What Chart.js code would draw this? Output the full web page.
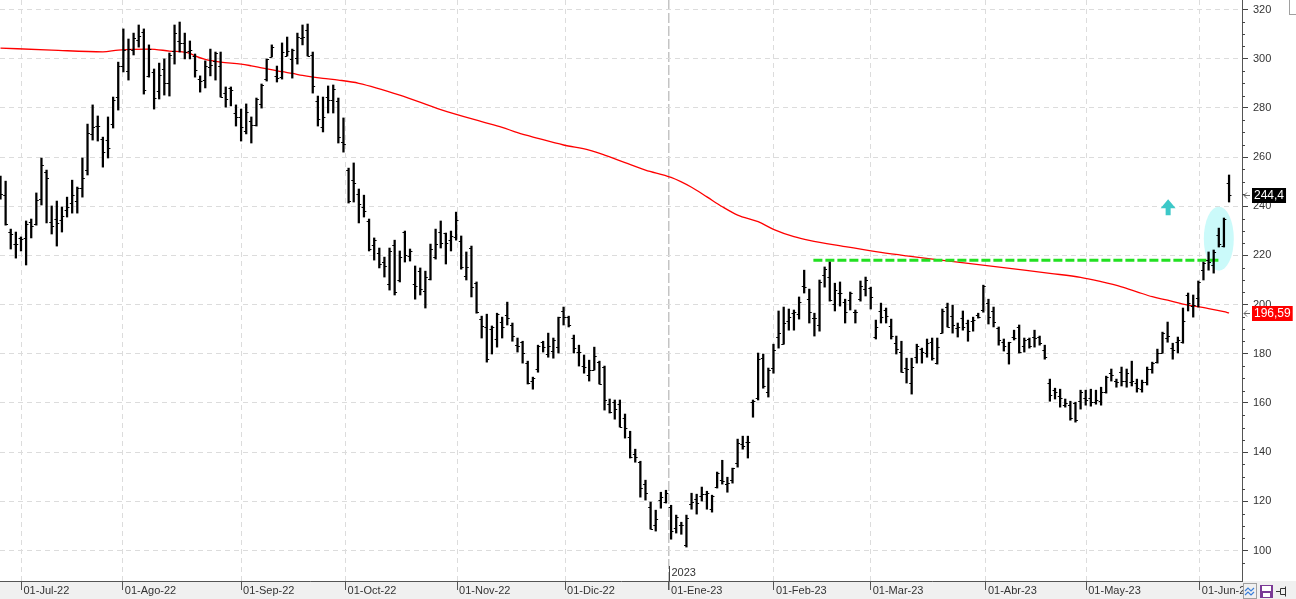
<!DOCTYPE html>
<html>
<head>
<meta charset="utf-8">
<script src="https://cdn.jsdelivr.net/npm/chart.js@4.4.1/dist/chart.umd.min.js"></script>
<style>
  html, body { margin: 0; padding: 0; background: #fff; overflow: hidden; }
  #wrap { position: relative; width: 1296px; height: 599px; }
</style>
</head>
<body>
<div id="wrap"><canvas id="priceChart"></canvas></div>
<script>
/* ── daily OHLC, one entry per session (27-Jun-22 … 08-Jun-23) ── */
const opens = [
  250.0,244.5,229.5,224.6,227.1,227.1,233.6,232.7,242.9,253.9,233.6,234.8,234.4,238.4,241.3,242.1,247.4,254.7,269.4,272.6,
  267.3,266.9,273.4,284.4,297.0,295.0,303.5,307.6,310.9,293.0,294.6,286.9,295.8,290.1,303.1,307.2,306.4,303.1,301.1,291.7,
  291.3,296.6,299.1,297.0,286.0,288.1,277.9,276.3,270.6,274.6,273.0,281.6,291.7,300.7,293.0,292.5,301.1,299.9,300.3,308.4,
  311.7,301.5,282.8,272.2,284.4,283.2,282.8,266.1,254.7,250.6,244.9,239.7,234.0,224.2,221.0,217.3,208.3,224.2,210.0,229.5,
  219.7,208.3,213.6,205.5,210.4,219.3,229.5,229.1,226.2,227.5,225.8,211.6,223.0,208.7,194.1,190.9,190.0,186.0,192.9,195.7,
  191.7,183.5,184.7,176.2,168.9,173.8,184.7,179.9,181.1,182.7,197.4,194.9,186.4,180.7,175.0,171.3,173.4,176.6,174.6,159.5,
  160.3,159.5,153.8,146.1,139.2,135.9,127.0,117.6,110.3,120.5,119.7,117.6,109.1,110.3,102.2,118.8,120.9,122.1,122.9,116.8,
  125.8,128.6,127.0,128.6,135.5,143.3,144.1,160.3,162.0,178.2,164.4,174.2,186.8,183.9,193.3,196.5,196.1,207.5,202.2,194.5,
  191.7,212.0,211.2,200.2,204.7,201.0,201.8,196.9,202.2,206.3,206.7,186.8,197.4,197.8,191.3,184.3,180.7,174.2,168.1,178.6,
  181.9,180.3,184.7,176.2,188.4,199.0,195.3,190.4,194.5,192.5,193.3,195.7,197.8,200.6,197.4,190.4,184.7,180.3,186.8,190.9,
  183.1,186.0,186.8,186.8,181.5,168.1,165.2,162.8,159.1,159.1,159.9,160.7,162.0,162.0,160.3,160.7,164.4,172.1,168.9,172.5,
  168.9,168.5,168.1,165.6,168.5,173.8,176.6,180.3,186.4,182.3,184.7,184.7,203.9,199.4,202.6,214.0,218.1,216.1,228.3,223.8,
  249.4
];
const highs = [
  252.3,250.2,230.7,229.5,227.5,234.0,234.8,245.4,259.6,254.7,240.1,242.1,239.7,243.7,250.6,247.8,259.6,273.4,281.2,276.7,
  268.1,276.3,284.4,298.6,312.1,308.0,310.4,313.7,312.1,305.6,295.8,298.2,299.9,302.3,313.7,314.9,310.4,307.2,301.9,293.0,
  299.1,303.9,302.7,302.7,288.5,288.5,281.2,279.5,281.6,276.3,284.0,289.7,299.9,305.6,297.0,306.4,308.8,303.9,310.4,313.7,
  314.1,302.7,284.8,284.4,288.9,289.3,284.0,275.9,255.5,257.6,247.0,244.5,234.8,227.1,223.0,219.3,223.0,226.2,221.8,229.9,
  222.6,215.7,214.9,213.6,224.6,230.7,234.0,229.1,229.9,237.6,227.9,221.4,223.8,209.2,195.3,196.1,191.3,196.5,194.9,201.0,
  192.5,186.4,185.1,177.0,170.5,183.5,185.1,188.4,186.4,194.9,199.0,195.3,187.6,183.5,179.5,177.4,182.7,177.0,175.0,161.6,
  161.2,161.2,155.5,148.5,141.2,136.3,128.6,119.7,116.4,123.7,124.5,118.4,114.4,111.5,114.4,123.3,122.9,125.8,124.1,122.5,
  131.9,136.7,129.8,133.5,145.3,146.5,146.5,161.2,180.3,179.9,174.2,183.9,197.4,199.0,198.2,197.8,203.1,214.0,206.3,196.5,
  210.0,215.3,217.3,208.7,209.2,202.2,205.1,197.8,209.6,211.2,207.1,193.7,200.6,198.6,194.1,187.2,185.1,178.2,178.2,183.9,
  182.3,186.0,186.4,186.4,198.2,200.6,199.8,192.5,197.4,193.7,194.9,196.5,207.9,202.2,199.0,190.9,186.0,184.7,189.6,191.7,
  186.4,186.4,189.6,187.2,183.5,169.7,166.0,165.6,161.6,160.7,160.3,165.2,165.2,165.6,165.2,166.4,170.9,173.8,169.7,174.6,
  173.8,177.0,169.7,169.3,174.6,176.6,181.9,188.8,192.9,184.3,186.8,198.6,204.7,203.9,209.6,217.3,221.4,222.2,231.1,235.2,
  252.7
];
const lows = [
  242.9,232.3,222.6,218.9,221.8,216.1,227.1,232.3,240.5,233.2,228.7,223.8,229.5,235.6,237.2,237.2,243.7,252.7,266.9,266.5,
  255.9,259.6,271.8,279.1,294.6,291.3,301.5,304.7,285.6,292.5,279.5,283.6,285.2,284.8,297.8,302.7,299.9,299.9,292.5,286.4,
  288.1,293.0,291.3,284.4,280.3,280.8,272.6,266.5,269.4,265.7,272.6,279.9,290.9,300.7,290.5,291.7,301.1,292.1,297.8,305.6,
  301.1,286.0,272.6,270.2,277.9,277.9,265.7,262.0,241.3,241.7,233.2,235.6,221.8,218.1,214.9,211.2,205.9,203.9,209.2,217.3,
  217.7,202.2,203.9,198.6,210.0,218.5,223.0,216.5,221.8,226.2,214.4,210.0,203.1,196.5,186.4,176.6,179.9,182.7,186.4,191.7,
  185.1,180.7,176.2,167.7,165.6,172.5,180.7,178.6,178.2,180.3,191.7,190.9,180.3,175.0,172.1,168.9,173.4,167.7,157.1,155.9,
  153.4,150.2,145.7,137.6,135.9,121.7,120.5,108.7,107.9,117.2,119.3,104.6,107.1,106.6,101.4,116.8,114.8,120.1,116.8,115.6,
  125.4,127.0,123.7,127.4,133.9,141.2,137.6,154.2,161.2,166.0,162.4,172.1,182.3,183.9,189.6,189.6,194.1,204.7,192.5,187.2,
  189.2,207.1,201.4,197.4,199.4,192.5,197.8,192.5,201.4,203.5,198.2,186.0,192.5,192.5,186.0,179.9,172.5,168.1,163.6,176.2,
  176.2,178.6,177.4,175.8,188.4,190.9,188.4,186.8,189.6,185.1,189.2,194.5,196.9,192.1,190.9,183.5,181.1,175.8,185.6,180.3,
  180.7,182.3,182.7,183.5,177.8,160.7,161.6,158.3,158.3,153.0,152.2,157.5,159.1,158.7,159.5,159.1,164.0,168.9,166.4,166.9,
  166.4,166.9,164.4,164.4,167.3,172.1,176.2,180.3,184.7,177.8,180.3,184.3,197.4,194.9,199.0,210.0,214.0,212.8,223.4,223.4,
  241.7
];
const closes = [
  244.9,232.7,228.7,224.6,226.6,232.7,231.9,242.5,256.8,251.5,231.9,233.2,236.0,239.7,244.5,247.4,251.5,269.8,272.2,272.6,
  262.0,263.7,283.2,297.0,303.5,303.9,308.4,309.2,287.3,303.9,284.0,293.4,290.1,301.5,310.4,306.4,302.7,303.5,295.4,290.9,
  297.0,297.4,302.3,284.4,283.6,287.3,276.3,272.2,278.3,273.0,283.6,289.3,299.9,304.7,292.1,302.7,303.1,303.5,308.8,308.8,
  301.1,288.9,275.5,276.3,283.2,287.7,268.1,265.3,242.1,249.4,240.9,238.0,222.6,226.2,216.5,215.7,221.8,205.1,219.3,220.1,
  221.8,207.5,206.3,211.2,222.6,224.6,225.0,225.0,227.9,234.4,215.3,215.3,207.1,196.9,191.3,177.8,190.9,196.1,190.9,194.5,
  187.2,183.1,180.3,168.1,170.1,183.1,182.7,183.1,185.6,194.9,194.9,191.7,182.3,180.7,174.6,173.4,179.1,167.7,161.2,156.3,
  157.5,150.2,149.8,138.0,138.0,125.4,123.3,108.7,112.7,121.7,123.3,107.9,113.6,110.3,113.2,119.7,119.3,122.9,123.3,122.1,
  131.5,128.2,127.4,133.5,143.7,142.4,144.1,160.7,177.8,166.9,173.4,181.5,188.4,192.5,194.9,196.9,201.0,207.1,196.9,194.5,
  209.2,214.4,201.8,205.9,204.7,196.9,204.7,196.9,207.5,210.0,203.1,190.9,194.9,195.3,187.2,181.9,172.5,173.8,174.6,183.1,
  180.7,184.3,178.2,182.7,197.4,190.9,191.7,190.9,190.9,189.2,193.7,194.9,207.5,194.9,192.9,185.6,183.1,184.7,186.4,180.7,
  185.6,183.1,186.4,184.3,178.6,163.2,164.4,162.0,159.9,153.8,153.0,164.4,161.2,160.3,161.2,164.4,170.5,171.3,168.5,168.9,
  172.1,168.9,166.0,168.5,173.8,176.2,180.3,188.4,187.2,181.5,185.6,193.3,200.6,199.8,209.2,216.9,217.3,221.4,224.6,234.8,
  244.4
];

/* ── 200-session moving average, read at these session indexes ── */
const maIndex  = [0,10,20,23,29,33,37,38,40,43,47,49,51,55,57,59,63,66,70,78,86,94,98,101,105,110,115,118,122,126,131,135,138,141,144,148,151,155,158,165,172,177,187,200,205,211,215,219,222,225,228,231,236,239,240];
const maValues = [304.3,303.5,302.8,303.5,303.9,303.1,302.2,301.1,299.7,298.6,297.8,297.1,296.3,294.7,294.0,293.2,292.0,291.3,290.0,285.2,279.3,274.4,272.1,269.9,267.6,264.9,262.8,260.8,257.7,254.7,251.7,247.7,243.8,239.8,236.4,233.7,230.6,227.6,226.1,223.6,221.2,219.8,217.3,214.0,212.7,211.1,209.3,207.2,205.2,203.2,201.8,200.2,198.4,197.1,196.59];

/* ── axes ── */
const monthTicks  = [4.1, 23.9, 47.0, 67.4, 89.2, 110.3, 130.6, 151.1, 170.0, 192.5, 212.1, 234.3];
const monthLabels = ['01-Jul-22','01-Ago-22','01-Sep-22','01-Oct-22','01-Nov-22','01-Dic-22','01-Ene-23','01-Feb-23','01-Mar-23','01-Abr-23','01-May-23','01-Jun-23'];
const yearTick    = 130.6;
const yearLabel   = '2023';
const priceTicks  = [100,120,140,160,180,200,220,240,260,280,300,320];

/* ── annotations ── */
const resistance   = [{ x: 158.8, y: 218 }, { x: 238, y: 218 }];
const breakoutZone = { x: 238, y: 226.8 };
const arrowTip     = { x: 228.1, y: 242.8 };
const lastClose    = closes[closes.length - 1];
const lastMA       = maValues[maValues.length - 1];

const FONT = "'Liberation Sans', Arial, sans-serif";
const fmt = (v, d) => v.toFixed(d).replace('.', ',');

/* ── extras drawn through the scales ── */
const extras = {
    id: 'extras',
    beforeDraw(chart) {
        const { ctx, width, height, chartArea } = chart;
        ctx.save();
        ctx.fillStyle = '#fff';
        ctx.fillRect(0, 0, width, height);
        ctx.fillStyle = '#f0f0f0';
        ctx.fillRect(0, chartArea.bottom, width, height - chartArea.bottom);
        ctx.restore();
    },
    beforeDatasetsDraw(chart) {
        const { ctx, scales: { x, y } } = chart;
        ctx.save();
        ctx.fillStyle = '#cbfafa';
        ctx.beginPath();
        ctx.ellipse(x.getPixelForValue(breakoutZone.x), y.getPixelForValue(breakoutZone.y), 15, 32, 0, 0, Math.PI * 2);
        ctx.fill();
        ctx.restore();
    },
    afterDatasetsDraw(chart) {
        const { ctx, chartArea: ca, scales: { x, y } } = chart;
        ctx.save();
        ctx.beginPath(); ctx.rect(ca.left, ca.top, ca.width, ca.height); ctx.clip();

        // open / close ticks
        ctx.strokeStyle = '#000';
        ctx.lineWidth = 1.2;
        ctx.beginPath();
        for (let i = 0; i < opens.length; i++) {
            const px = x.getPixelForValue(i);
            const po = Math.round(y.getPixelForValue(opens[i])) + 0.5;
            const pc = Math.round(y.getPixelForValue(closes[i])) + 0.5;
            ctx.moveTo(px - 2.4, po); ctx.lineTo(px, po);
            ctx.moveTo(px, pc); ctx.lineTo(px + 2.4, pc);
        }
        ctx.stroke();

        // up arrow
        const ax = x.getPixelForValue(arrowTip.x), ay = y.getPixelForValue(arrowTip.y);
        ctx.fillStyle = '#3cc8c8';
        ctx.beginPath();
        ctx.moveTo(ax, ay);
        ctx.lineTo(ax + 7.5, ay + 9);
        ctx.lineTo(ax + 2.5, ay + 9);
        ctx.lineTo(ax + 2.5, ay + 16);
        ctx.lineTo(ax - 2.5, ay + 16);
        ctx.lineTo(ax - 2.5, ay + 9);
        ctx.lineTo(ax - 7.5, ay + 9);
        ctx.closePath();
        ctx.fill();

        // year marker
        const yx = Math.round(x.getPixelForValue(yearTick)) + 0.5;
        ctx.strokeStyle = '#444';
        ctx.lineWidth = 1;
        ctx.beginPath(); ctx.moveTo(yx, ca.bottom - 15); ctx.lineTo(yx, ca.bottom); ctx.stroke();
        ctx.fillStyle = '#333';
        ctx.font = '11px ' + FONT;
        ctx.textBaseline = 'middle';
        ctx.fillText(yearLabel, yx + 2, ca.bottom - 8);
        ctx.restore();
    },
    afterDraw(chart) {
        const { ctx, chartArea: ca, scales: { y }, width, height } = chart;
        ctx.save();

        // minor ticks on the price axis
        ctx.strokeStyle = '#444';
        ctx.lineWidth = 1;
        ctx.beginPath();
        for (let v = 95; v <= 320; v += 5) {
            if (v % 20 === 0) continue;
            const py = Math.round(y.getPixelForValue(v)) + 0.5;
            ctx.moveTo(ca.right, py); ctx.lineTo(ca.right + 3, py);
        }
        ctx.stroke();

        // value tags
        const tag = (val, text, bg) => {
            const py = y.getPixelForValue(val);
            ctx.font = '12px ' + FONT;
            const w = ctx.measureText(text).width + 4;
            ctx.fillStyle = bg;
            ctx.fillRect(ca.right + 10, Math.round(py) - 7, w, 15);
            ctx.fillStyle = '#fff';
            ctx.textBaseline = 'middle';
            ctx.fillText(text, ca.right + 12, Math.round(py) + 1);
            ctx.strokeStyle = '#666';
            ctx.beginPath();
            ctx.moveTo(ca.right + 8, Math.round(py) + 0.5); ctx.lineTo(ca.right + 2, Math.round(py) + 0.5);
            ctx.moveTo(ca.right + 5, Math.round(py) - 2.5); ctx.lineTo(ca.right + 2, Math.round(py) + 0.5);
            ctx.lineTo(ca.right + 5, Math.round(py) + 3.5);
            ctx.stroke();
        };
        tag(lastClose, fmt(lastClose, 1), '#000');
        tag(lastMA, fmt(lastMA, 2), '#ff0000');

        // toolbar in the corner
        ctx.fillStyle = '#f0f0f0';
        ctx.fillRect(ca.right + 1, ca.bottom + 1, width - ca.right, height - ca.bottom);
        ctx.strokeStyle = '#a0a0a0';
        ctx.strokeRect(ca.right + 1.5, ca.bottom + 2.5, 13, 15);
        ctx.strokeStyle = '#3b7fd9';
        ctx.lineWidth = 1.2;
        ctx.beginPath();
        [0, 4].forEach(dy => {
            const by = ca.bottom + 8 + dy;
            ctx.moveTo(ca.right + 3, by + 2); ctx.lineTo(ca.right + 6, by - 1);
            ctx.lineTo(ca.right + 9, by + 2); ctx.lineTo(ca.right + 12, by - 1);
        });
        ctx.stroke();
        ctx.fillStyle = '#7b3a96';
        ctx.fillRect(ca.right + 18, ca.bottom + 4, 13, 13);
        ctx.fillStyle = '#fff';
        ctx.fillRect(ca.right + 20, ca.bottom + 5, 9, 5);
        ctx.fillRect(ca.right + 21, ca.bottom + 12, 7, 4);
        ctx.strokeStyle = '#333';
        ctx.lineWidth = 1;
        ctx.beginPath();
        ctx.moveTo(ca.right + 34, ca.bottom + 10.5); ctx.lineTo(ca.right + 38, ca.bottom + 10.5);
        ctx.rect(ca.right + 38.5, ca.bottom + 7.5, 5, 6);
        ctx.moveTo(ca.right + 43.5, ca.bottom + 5.5); ctx.lineTo(ca.right + 43.5, ca.bottom + 15.5);
        ctx.stroke();
        ctx.strokeStyle = '#a0a0a0';
        ctx.strokeRect(width - 6.5, -0.5, 8, 15);
        ctx.restore();
    }
};

new Chart(document.getElementById('priceChart').getContext('2d'), {
    type: 'bar',
    data: {
        datasets: [
            {
                type: 'bar',
                data: highs.map((h, i) => ({ x: i, y: [lows[i], h] })),
                backgroundColor: '#000',
                borderWidth: 0,
                barThickness: 1.6,
                grouped: false,
                order: 0
            },
            {
                type: 'line',
                data: resistance,
                borderColor: '#22e022',
                borderWidth: 3,
                borderDash: [9, 3],
                pointRadius: 0,
                order: 1
            },
            {
                type: 'line',
                data: maIndex.map((v, k) => ({ x: v, y: maValues[k] })),
                borderColor: '#ff0000',
                borderWidth: 1.3,
                pointRadius: 0,
                cubicInterpolationMode: 'monotone',
                order: 2
            }
        ]
    },
    options: {
        responsive: true,
        maintainAspectRatio: false,
        animation: false,
        devicePixelRatio: 1,
        layout: { padding: 0 },
        plugins: { legend: { display: false }, tooltip: { enabled: false } },
        scales: {
            x: {
                type: 'linear',
                position: 'bottom',
                offset: false,
                min: -0.098,
                max: 242.53,
                afterBuildTicks: s => { s.ticks = monthTicks.map(v => ({ value: v })); },
                afterFit: s => { s.height = 18; s.paddingLeft = 0; s.paddingRight = 0; },
                ticks: {
                    autoSkip: false,
                    maxRotation: 0,
                    align: 'start',
                    labelOffset: 2,
                    padding: -6,
                    color: '#333',
                    font: { family: FONT, size: 11 },
                    callback: (v, i) => monthLabels[i]
                },
                grid: {
                    offset: false,
                    color: c => c.tick && c.tick.value === yearTick ? '#c4c4c4' : '#dcdcdc',
                    lineWidth: c => c.tick && c.tick.value === yearTick ? 1.5 : 1,
                    tickColor: '#555',
                    tickLength: 9
                },
                border: {
                    color: '#555',
                    dash: c => c.tick && c.tick.value === yearTick ? [10, 3] : [5, 4]
                }
            },
            y: {
                type: 'linear',
                position: 'right',
                min: 87.6,
                max: 323.86,
                afterBuildTicks: s => { s.ticks = priceTicks.map(v => ({ value: v })); },
                afterFit: s => { s.width = 54; s.paddingTop = 0; s.paddingBottom = 0; },
                ticks: {
                    padding: 5,
                    color: '#333',
                    font: { family: FONT, size: 11 },
                    callback: v => String(v)
                },
                grid: { color: '#dcdcdc', tickColor: '#444', tickLength: 6 },
                border: { color: '#555', dash: [5, 4] }
            }
        }
    },
    plugins: [extras]
});
</script>
</body>
</html>
